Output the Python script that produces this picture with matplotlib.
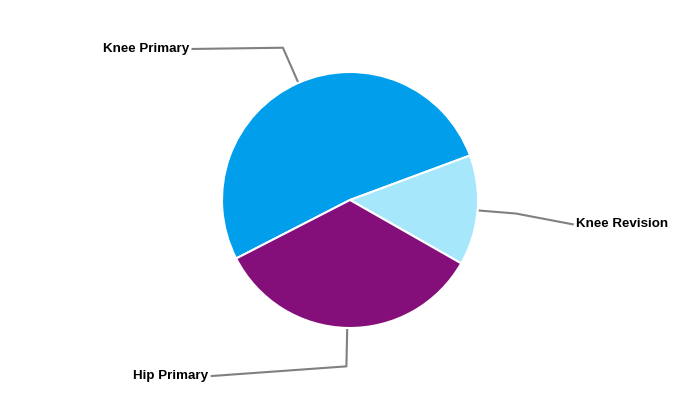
import numpy as np
import matplotlib
matplotlib.use('Agg')
import matplotlib.pyplot as plt

# данные
labels = ['Knee Primary', 'Knee Revision', 'Hip Primary']
values = [51.9, 13.9, 34.2]
colors = ['#009EEB', '#A6E7FB', '#840F7A']

# куда ставим подписи (конец выноски), в радиусах
label_pos = [(-1.23, 1.18), (1.74, -0.19), (-1.08, -1.375)]
label_ha = ['right', 'left', 'right']

plt.rcParams['font.family'] = ['Liberation Sans', 'DejaVu Sans']

fig = plt.figure(figsize=(7, 4), dpi=100)
ax = fig.add_axes([0, 0, 1, 1])

wedges, _ = ax.pie(values, colors=colors, startangle=207.2, counterclock=False,
                   radius=1, center=(0, 0),
                   wedgeprops=dict(edgecolor='white', linewidth=1.5))

for w, lab, (lx, ly), ha in zip(wedges, labels, label_pos, label_ha):
    mid = np.deg2rad((w.theta1 + w.theta2) / 2)
    x0, y0 = np.cos(mid), np.sin(mid)
    x1, y1 = 1.3 * x0, 1.3 * y0
    ax.plot([x0, x1, lx], [y0, y1, ly], color='#808080', lw=1.5, zorder=0)
    dx = -0.025 if ha == 'right' else 0.025
    ax.text(lx + dx, ly, lab, ha=ha, va='center', fontsize=9.6, fontweight='bold')

ax.set_xlim(-350 / 128, 350 / 128)
ax.set_ylim(-200 / 128, 200 / 128)
ax.set_aspect('equal')
ax.axis('off')

fig.savefig('out.png', dpi=100)
